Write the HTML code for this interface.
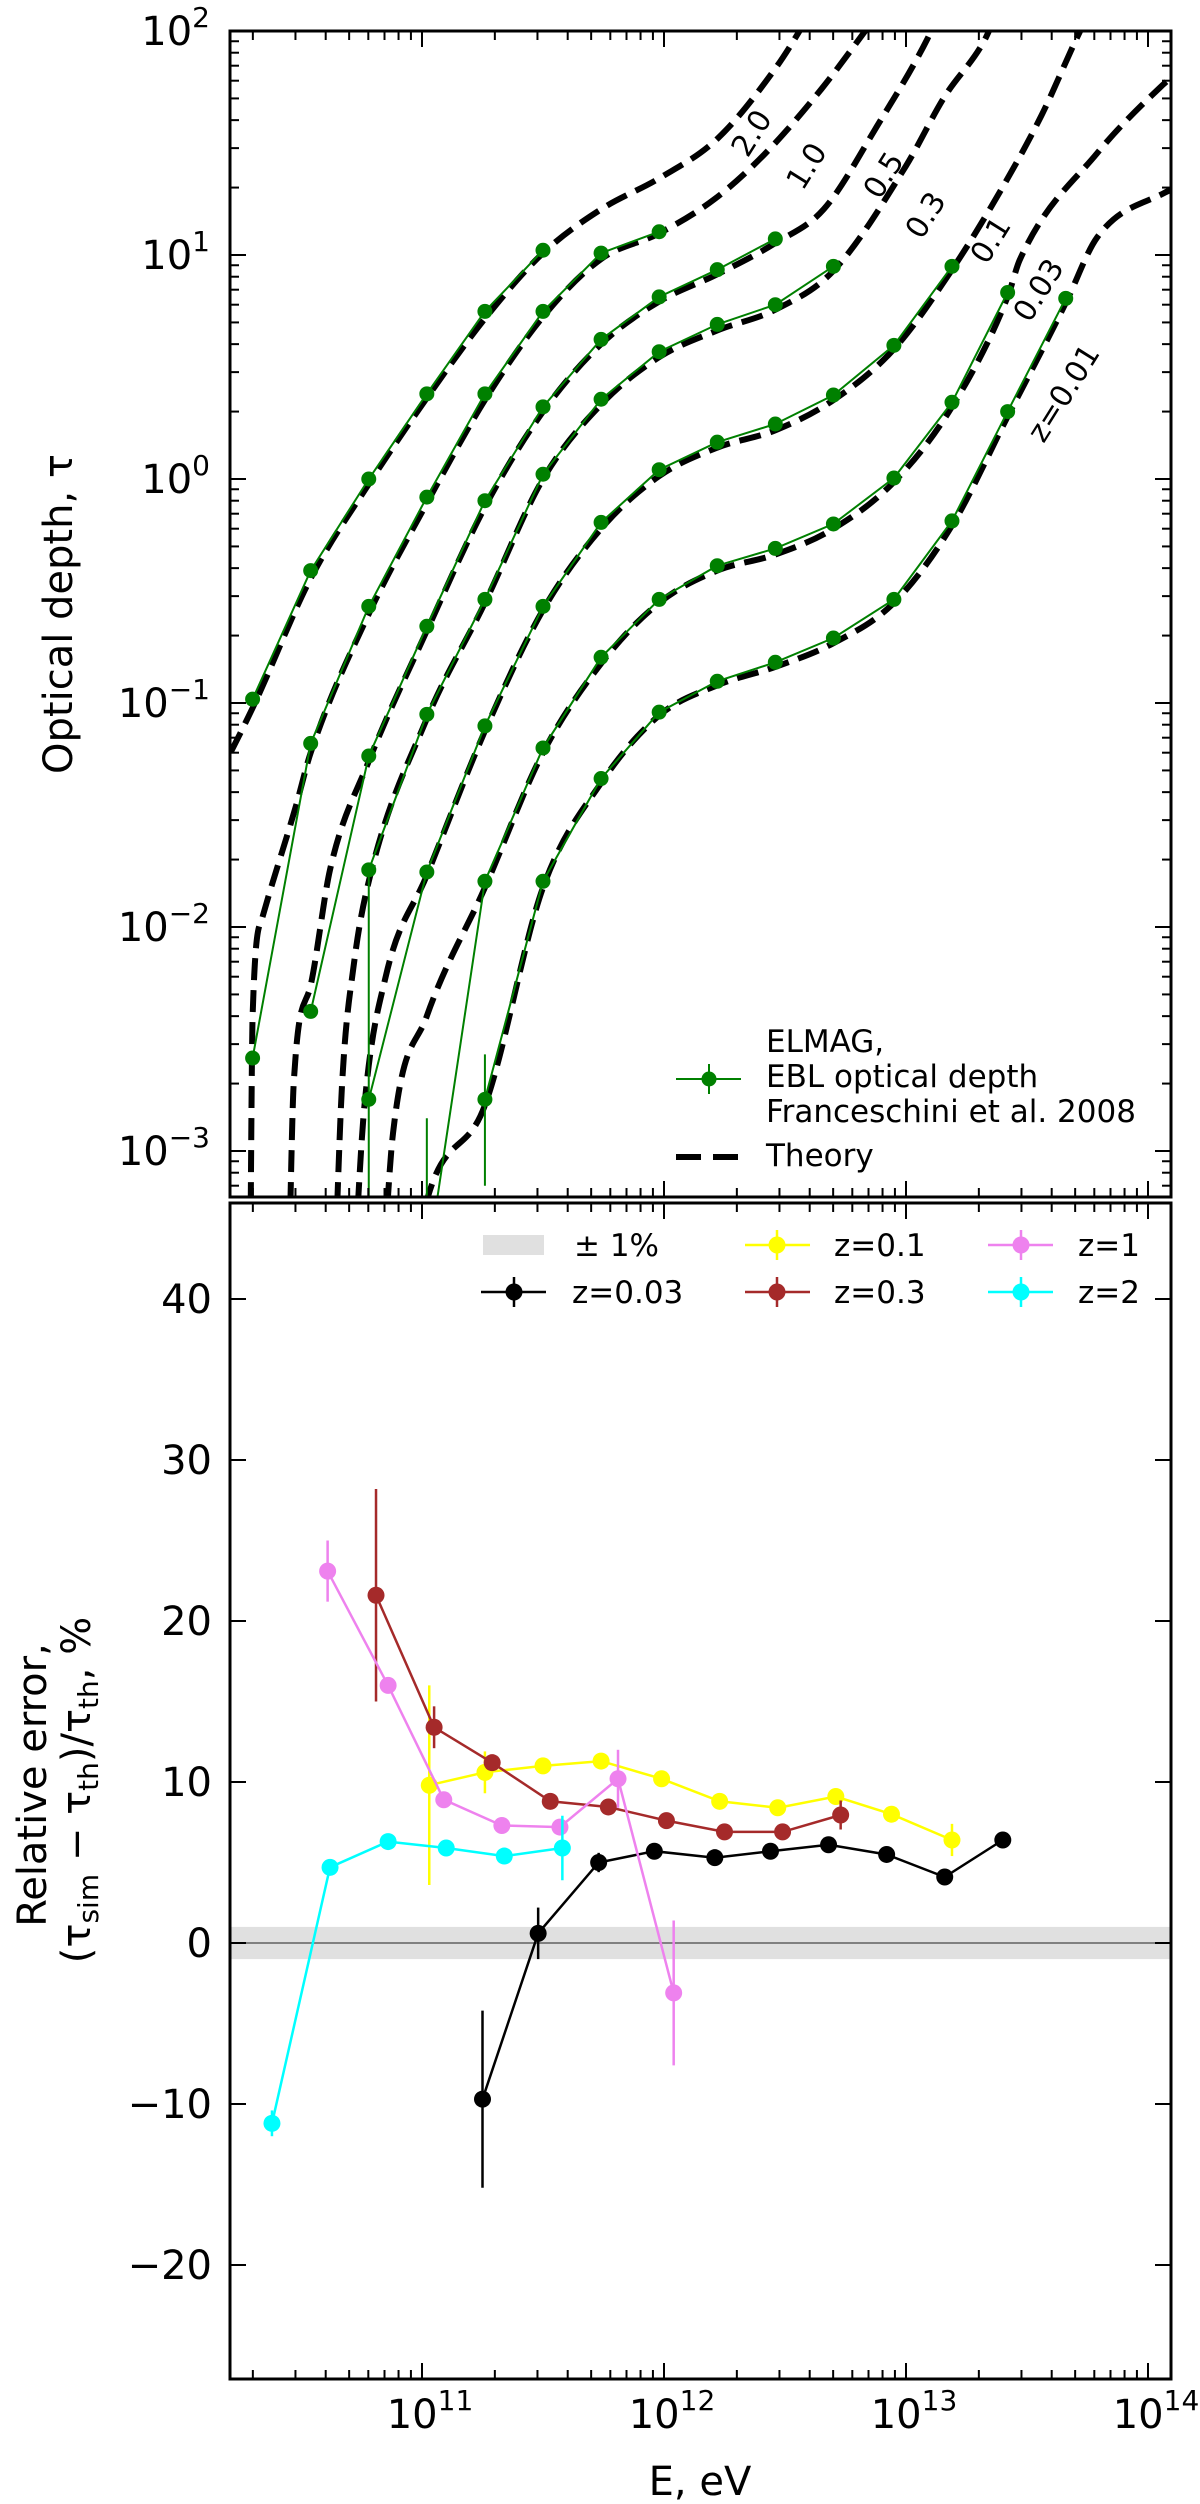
<!DOCTYPE html>
<html><head><meta charset="utf-8"><style>
html,body{margin:0;padding:0;background:#fff;}
svg{display:block;font-family:"DejaVu Sans","Liberation Sans",sans-serif;}
</style></head><body>
<svg id="fig" width="1200" height="2504" viewBox="0 0 1200 2504" xmlns="http://www.w3.org/2000/svg">
<defs>
<clipPath id="clipTop"><rect x="230" y="31" width="941" height="1166"/></clipPath>
<clipPath id="clipBot"><rect x="230" y="1203" width="941" height="1176"/></clipPath>
</defs>
<g id="topPanel"></g>
<g id="botPanel"></g>
</svg>
<script>
// ---------- Top panel data (log10 E in eV, tau) ----------
const zLabels = ["2.0","1.0","0.5","0.3","0.1","0.03","z=0.01"];
const simE_z2 = [10.30,10.54,10.78,11.02,11.26,11.50];
const simT_z2 = [0.104,0.39,1.0,2.4,5.6,10.5];
const simE_z1 = [10.30,10.54,10.78,11.02,11.26,11.50,11.74,11.98];
const simT_z1 = [0.0026,0.066,0.27,0.83,2.4,5.6,10.2,12.7];
const simE_z05 = [10.54,10.78,11.02,11.26,11.50,11.74,11.98,12.22,12.46];
const simT_z05 = [0.0042,0.058,0.22,0.8,2.1,4.2,6.5,8.6,11.8];
const simE_z03 = [10.78,11.02,11.26,11.50,11.74,11.98,12.22,12.46,12.70];
const simT_z03 = [0.018,0.089,0.29,1.05,2.27,3.7,4.9,6.0,8.9];
const simE_z01 = [10.78,11.02,11.26,11.50,11.74,11.98,12.22,12.46,12.70,12.95,13.19];
const simT_z01 = [0.0017,0.0176,0.079,0.27,0.64,1.1,1.46,1.76,2.37,3.95,8.9];
const simErr_z01 = [0.0165,0,0,0,0,0,0,0,0,0,0];
const simE_z003 = [11.02,11.26,11.50,11.74,11.98,12.22,12.46,12.70,12.95,13.19,13.42];
const simT_z003 = [0.0003,0.016,0.063,0.16,0.29,0.41,0.49,0.63,1.01,2.2,6.8];
const simErr_z003 = [0.0011,0,0,0,0,0,0,0,0,0,0];
const simE_z001 = [11.26,11.50,11.74,11.98,12.22,12.46,12.70,12.95,13.19,13.42,13.66];
const simT_z001 = [0.0017,0.016,0.046,0.091,0.125,0.152,0.195,0.29,0.65,2.0,6.4];
const simErr_z001 = [0.001,0,0,0,0,0,0,0,0,0,0];

const thE_z2 = [10.15,10.30,10.54,10.78,11.02,11.26,11.50,11.74,11.98,12.22,12.46,12.56,12.62];
const thT_z2 = [0.045,0.095,0.36,0.95,2.3,5.2,10.2,16,22,33,68,100,130];
const thE_z1 = [10.29,10.30,10.34,10.48,10.54,10.78,11.02,11.26,11.50,11.74,11.98,12.21,12.42,12.65,12.86];
const thT_z1 = [0.0003,0.004,0.011,0.035,0.06,0.25,0.78,2.25,5.3,9.6,12.5,17.8,28.5,55,110];
const thE_z05 = [10.45,10.47,10.54,10.62,10.78,11.02,11.26,11.50,11.74,11.98,12.22,12.46,12.66,12.88,13.09,13.12];
const thT_z05 = [0.0003,0.002,0.0055,0.018,0.055,0.21,0.75,2.0,4.0,6.2,8.2,11.3,16,37.6,93,110];
const thE_z03 = [10.64,10.67,10.72,10.78,11.02,11.26,11.50,11.74,11.98,12.22,12.46,12.70,13.0,13.16,13.32,13.36];
const thT_z03 = [0.0003,0.002,0.007,0.016,0.085,0.28,1.0,2.15,3.5,4.6,5.7,8.5,25,51,89,110];
const thE_z01 = [10.72,10.76,10.85,11.02,11.26,11.50,11.74,11.98,12.22,12.46,12.70,12.95,13.19,13.39,13.56,13.72,13.75];
const thT_z01 = [0.0003,0.0015,0.006,0.017,0.075,0.26,0.6,1.03,1.38,1.65,2.25,3.8,8.6,19.3,42,100,115];
const thE_z003 = [10.84,10.88,11.02,11.26,11.50,11.74,11.98,12.22,12.46,12.70,12.95,13.19,13.42,13.47,13.79,14.05,14.12];
const thT_z003 = [0.0003,0.0012,0.004,0.015,0.06,0.15,0.28,0.39,0.46,0.6,0.97,2.1,6.5,9.5,28.5,56,65];
const thE_z001 = [10.97,11.02,11.26,11.50,11.74,11.98,12.22,12.46,12.70,12.95,13.19,13.42,13.66,13.79,14.07,14.12];
const thT_z001 = [0.0003,0.0006,0.0016,0.015,0.044,0.088,0.12,0.145,0.185,0.28,0.62,1.9,6.1,12,19,20];

// ---------- Bottom panel data (log10 E, relative error %, error) ----------
const errE_003 = [11.25,11.48,11.73,11.96,12.21,12.44,12.68,12.92,13.16,13.40];
const errV_003 = [-9.7,0.6,5.0,5.7,5.3,5.7,6.1,5.5,4.1,6.4];
const errS_003 = [5.5,1.6,0.6,0.3,0.3,0.3,0.3,0.3,0.3,0.3];
const errE_01 = [11.03,11.26,11.50,11.74,11.99,12.23,12.47,12.71,12.94,13.19];
const errV_01 = [9.8,10.6,11.0,11.3,10.2,8.8,8.4,9.1,8.0,6.4];
const errS_01 = [6.2,1.3,0.4,0.4,0.4,0.3,0.3,0.3,0.3,1.0];
const errE_03 = [10.81,11.05,11.29,11.53,11.77,12.01,12.25,12.49,12.73];
const errV_03 = [21.6,13.4,11.2,8.8,8.45,7.6,6.9,6.9,7.95];
const errS_03 = [6.6,1.3,0.4,0.3,0.3,0.3,0.3,0.3,0.9];
const errE_1 = [10.61,10.86,11.09,11.33,11.57,11.81,12.04];
const errV_1 = [23.1,16.0,8.9,7.3,7.2,10.2,-3.1];
const errS_1 = [1.9,0.3,0.3,0.3,0.3,1.8,4.5];
const errE_2 = [10.38,10.62,10.86,11.10,11.34,11.58];
const errV_2 = [-11.2,4.7,6.3,5.9,5.4,5.9];
const errS_2 = [0.8,0.3,0.3,0.3,0.3,2.0];

const xTickExp = [11,12,13,14];
const yTopTickExp = [2,1,0,-1,-2,-3];
const yBotTicks = [40,30,20,10,0,-10,-20];

// ---------- axes ----------
const L=230,R=1171,T1=31,B1=1197,T2=1203,B2=2379;
function X(le){return 422+(le-11)*242;}
function Yt(tau){return 31+(2-Math.log10(tau))*224;}
function Yb(v){return 1943-v*16.1;}

const NS="http://www.w3.org/2000/svg";
function mk(tag,attrs,parent,text){
  const e=document.createElementNS(NS,tag);
  for(const k in attrs) e.setAttribute(k,attrs[k]);
  if(text!==undefined) e.textContent=text;
  parent.appendChild(e); return e;
}
function monoPath(p){
  const n=p.length; if(n<2) return "";
  const d=[],m=[];
  for(let i=0;i<n-1;i++){d[i]=p[i+1][0]-p[i][0]; m[i]=(p[i+1][1]-p[i][1])/d[i];}
  const t=[m[0]];
  for(let i=1;i<n-1;i++){ t[i]=(m[i-1]*m[i]<=0)?0:(m[i-1]+m[i])/2; }
  t[n-1]=m[n-2];
  for(let i=0;i<n-1;i++){
    if(m[i]===0){t[i]=0;t[i+1]=0;continue;}
    const a=t[i]/m[i],b=t[i+1]/m[i],s=a*a+b*b;
    if(s>9){const k=3/Math.sqrt(s);t[i]=k*a*m[i];t[i+1]=k*b*m[i];}
  }
  let s="M"+p[0][0].toFixed(1)+","+p[0][1].toFixed(1);
  for(let i=0;i<n-1;i++){
    const h=d[i]/3;
    s+=" C"+(p[i][0]+h).toFixed(1)+","+(p[i][1]+t[i]*h).toFixed(1)+" "+(p[i+1][0]-h).toFixed(1)+","+(p[i+1][1]-t[i+1]*h).toFixed(1)+" "+p[i+1][0].toFixed(1)+","+p[i+1][1].toFixed(1);
  }
  return s;
}

const topP=document.getElementById('topPanel');
const botP=document.getElementById('botPanel');

// ---------- Top panel ----------
const thGroup=mk('g',{'clip-path':'url(#clipTop)'},topP);


const theory=[[thE_z2,thT_z2],[thE_z1,thT_z1],[thE_z05,thT_z05],[thE_z03,thT_z03],[thE_z01,thT_z01],[thE_z003,thT_z003],[thE_z001,thT_z001]];
const thNames=['z2','z1','z05','z03','z01','z003','z001'];
theory.forEach((c,i)=>{
  const pts=c[0].map((e,j)=>[X(e),Yt(c[1][j])]);
  const p=mk('path',{d:monoPath(pts),fill:'none',stroke:'#000','stroke-width':6,'stroke-dasharray':'22 10'},thGroup);
  
  
});
const simGroup=mk('g',{'clip-path':'url(#clipTop)'},topP);


const sims=[[simE_z2,simT_z2,null],[simE_z1,simT_z1,null],[simE_z05,simT_z05,null],[simE_z03,simT_z03,null],[simE_z01,simT_z01,simErr_z01],[simE_z003,simT_z003,simErr_z003],[simE_z001,simT_z001,simErr_z001]];
sims.forEach((c,i)=>{
  const pts=c[0].map((e,j)=>[X(e),Yt(c[1][j])]);
  const pl=mk('polyline',{points:pts.map(q=>q[0].toFixed(1)+","+q[1].toFixed(1)).join(" "),fill:'none',stroke:'#008000','stroke-width':2},simGroup);
  
  
  c[0].forEach((e,j)=>{
    const err=c[2]?c[2][j]:0;
    if(err>0){
      const lo=Math.max(c[1][j]-err,1e-5);
      const eb=mk('line',{x1:X(e),x2:X(e),y1:Yt(c[1][j]+err),y2:Yt(lo),stroke:'#008000','stroke-width':2},simGroup);
      
      
    }
    const ci=mk('circle',{cx:X(e),cy:Yt(c[1][j]),r:7.5,fill:'#008000'},simGroup);
    
    
  });
});
// curve labels
const labelPos=[[753,134],[808,167],[885,176],[927,216],[992,241],[1040,291],[1065,394]];
zLabels.forEach((t,i)=>{
  const tx=mk('text',{x:labelPos[i][0],y:labelPos[i][1],'font-size':30,'text-anchor':'middle','dominant-baseline':'middle',transform:'rotate(-58 '+labelPos[i][0]+' '+labelPos[i][1]+')',fill:'#000'},topP,t);
  
  
});

// ---------- Axes drawing ----------
function frame(parent,y0,y1,name){
  const r=mk('rect',{x:L,y:y0,width:R-L,height:y1-y0,fill:'none',stroke:'#000','stroke-width':3},parent);
  
  
}
function xTicks(parent,y0,y1){
  for(let dec=10;dec<=14;dec++){
    for(let k=1;k<=9;k++){
      const le=dec+Math.log10(k); const x=X(le);
      if(x<L+1||x>R-1) continue;
      const len=(k===1)?16:9;
      mk('line',{x1:x,x2:x,y1:y1,y2:y1-len,stroke:'#000','stroke-width':2},parent);
      mk('line',{x1:x,x2:x,y1:y0,y2:y0+len,stroke:'#000','stroke-width':2},parent);
    }
  }
}
const axTop=mk('g',{},topP);


xTicks(axTop,T1,B1);
for(let dec=-4;dec<=2;dec++){
  for(let k=1;k<=9;k++){
    const y=31+(2-(dec+Math.log10(k)))*224;
    if(y<T1-0.5||y>B1-1) continue;
    const len=(k===1)?16:9;
    mk('line',{x1:L,x2:L+len,y1:y,y2:y,stroke:'#000','stroke-width':2},axTop);
    mk('line',{x1:R,x2:R-len,y1:y,y2:y,stroke:'#000','stroke-width':2},axTop);
  }
}
frame(axTop,T1,B1,'top-plot-frame');
yTopTickExp.forEach(ex=>{
  const y=Yt(Math.pow(10,ex));
  const t=mk('text',{x:210,y:y+14,'font-size':40,'text-anchor':'end',fill:'#000'},axTop);
  
  
  mk('tspan',{},t,'10');
  mk('tspan',{'font-size':28,dy:-18},t,ex<0?'\u2212'+(-ex):String(ex));
});
const ylt=mk('text',{x:0,y:0,'font-size':40,'text-anchor':'middle',transform:'translate(72,614) rotate(-90)',fill:'#000'},topP,'Optical depth, \u03c4');



// top legend
const lg=mk('g',{},topP);


mk('line',{x1:676,x2:741,y1:1079,y2:1079,stroke:'#008000','stroke-width':2},lg);
mk('line',{x1:709,x2:709,y1:1064,y2:1094,stroke:'#008000','stroke-width':2},lg);
mk('circle',{cx:709,cy:1079,r:7.5,fill:'#008000'},lg);
[['ELMAG,',1052],['EBL optical depth',1087],['Franceschini et al. 2008',1122],['Theory',1166]].forEach(a=>{
  const t=mk('text',{x:766,y:a[1],'font-size':31,fill:'#000'},lg,a[0]);
  
  
});
mk('line',{x1:676,x2:701,y1:1157,y2:1157,stroke:'#000','stroke-width':6},lg);
mk('line',{x1:713,x2:738,y1:1157,y2:1157,stroke:'#000','stroke-width':6},lg);

// ---------- Bottom panel ----------
const band=mk('rect',{x:L,y:Yb(1),width:R-L,height:Yb(-1)-Yb(1),fill:'#e0e0e0'},botP);


const zl=mk('line',{x1:L,x2:R,y1:Yb(0),y2:Yb(0),stroke:'#808080','stroke-width':2},botP);


const errSeries=[[errE_003,errV_003,errS_003,'#000000','z003'],[errE_01,errV_01,errS_01,'#ffff00','z01'],[errE_03,errV_03,errS_03,'#a52a2a','z03'],[errE_1,errV_1,errS_1,'#ee82ee','z1'],[errE_2,errV_2,errS_2,'#00ffff','z2']];
const bg=mk('g',{'clip-path':'url(#clipBot)'},botP);


errSeries.forEach(s=>{
  const g=mk('g',{},bg);
  
  
  mk('polyline',{points:s[0].map((e,j)=>X(e).toFixed(1)+","+Yb(s[1][j]).toFixed(1)).join(" "),fill:'none',stroke:s[3],'stroke-width':2.5},g);
  s[0].forEach((e,j)=>{
    const eb=mk('line',{x1:X(e),x2:X(e),y1:Yb(s[1][j]+s[2][j]),y2:Yb(s[1][j]-s[2][j]),stroke:s[3],'stroke-width':2.5},g);
    
    
    const c=mk('circle',{cx:X(e),cy:Yb(s[1][j]),r:8.5,fill:s[3]},g);
    
    
  });
});
const axBot=mk('g',{},botP);


xTicks(axBot,T2,B2);
yBotTicks.forEach(v=>{
  const y=Yb(v);
  mk('line',{x1:L,x2:L+16,y1:y,y2:y,stroke:'#000','stroke-width':2},axBot);
  mk('line',{x1:R,x2:R-16,y1:y,y2:y,stroke:'#000','stroke-width':2},axBot);
  const t=mk('text',{x:212,y:y+14,'font-size':40,'text-anchor':'end',fill:'#000'},axBot,v<0?'\u2212'+(-v):String(v));
  
  
});
frame(axBot,T2,B2,'bottom-plot-frame');
xTickExp.forEach(ex=>{
  const t=mk('text',{x:X(ex)+8,y:2428,'font-size':40,'text-anchor':'middle',fill:'#000'},axBot);
  
  
  mk('tspan',{},t,'10');
  mk('tspan',{'font-size':28,dy:-18},t,String(ex));
});
const xt=mk('text',{x:700,y:2495,'font-size':40,'text-anchor':'middle',fill:'#000'},axBot,'E, eV');


const yb1=mk('text',{x:0,y:0,'font-size':40,'text-anchor':'middle',transform:'translate(46,1785) rotate(-90)',fill:'#000'},axBot,'Relative error,');


const yb2=mk('text',{x:0,y:0,'font-size':40,'text-anchor':'middle',transform:'translate(90,1790) rotate(-90)',fill:'#000'},axBot);


mk('tspan',{},yb2,'(\u03c4');
mk('tspan',{'font-size':28,dy:8},yb2,'sim');
mk('tspan',{dy:-8},yb2,' \u2212 \u03c4');
mk('tspan',{'font-size':28,dy:8},yb2,'th');
mk('tspan',{dy:-8},yb2,')/\u03c4');
mk('tspan',{'font-size':28,dy:8},yb2,'th');
mk('tspan',{dy:-8},yb2,', %');

// bottom legend
const bl=mk('g',{},botP);


mk('rect',{x:483,y:1235,width:61,height:20,fill:'#e0e0e0'},bl);
const lt0=mk('text',{x:574,y:1256,'font-size':31,fill:'#000'},bl,'\u00b1 1%');


const legItems=[[481,514,572,1292,'#000000','z=0.03'],[745,777,834,1245,'#ffff00','z=0.1'],[745,777,834,1292,'#a52a2a','z=0.3'],[988,1021,1078,1245,'#ee82ee','z=1'],[988,1021,1078,1292,'#00ffff','z=2']];
legItems.forEach(a=>{
  mk('line',{x1:a[0],x2:a[0]+65,y1:a[3],y2:a[3],stroke:a[4],'stroke-width':2.5},bl);
  mk('line',{x1:a[1],x2:a[1],y1:a[3]-15,y2:a[3]+15,stroke:a[4],'stroke-width':2.5},bl);
  mk('circle',{cx:a[1],cy:a[3],r:8.5,fill:a[4]},bl);
  const t=mk('text',{x:a[2],y:a[3]+11,'font-size':31,fill:'#000'},bl,a[5]);
  
  
});
</script>
</body></html>
